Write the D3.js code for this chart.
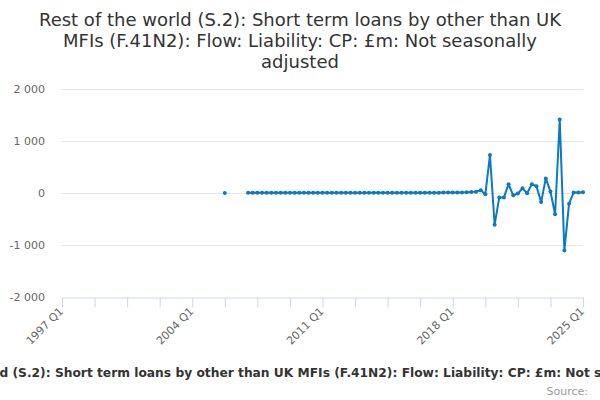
<!DOCTYPE html>
<html>
<head>
<meta charset="utf-8">
<script src="https://cdn.jsdelivr.net/npm/d3@7"></script>
<style>
  html, body { margin: 0; padding: 0; background: #fff; }
  svg { display: block; font-family: "DejaVu Sans", sans-serif; }
</style>
</head>
<body>
<svg id="chart" width="600" height="400"></svg>
<script>
// ---- data ----
const titleLines = [
  "Rest of the world (S.2): Short term loans by other than UK",
  "MFIs (F.41N2): Flow: Liability: CP: £m: Not seasonally",
  "adjusted"
];
const legendText = "Rest of the world (S.2): Short term loans by other than UK MFIs (F.41N2): Flow: Liability: CP: £m: Not seasonally adjusted";
const sourceText = "Source:";
const axisStart = "1997 Q1";
const axisEnd = "2025 Q1";
const xTickLabels = ["1997 Q1", "2004 Q1", "2011 Q1", "2018 Q1", "2025 Q1"];
const yTicks = [-2000, -1000, 0, 1000, 2000];
const yTickLabels = ["-2 000", "-1 000", "0", "1 000", "2 000"];
const seriesStart = "2005 Q4";
// quarterly values from 2005 Q4 to 2025 Q1 (null = no data)
const values = [
  0,                                  // 2005 Q4
  null, null, null, null,             // 2006
  5, 5, 5, 5,                         // 2007
  5, 5, 5, 5,                         // 2008
  5, 5, 5, 5,                         // 2009
  5, 5, 5, 5,                         // 2010
  5, 5, 5, 5,                         // 2011
  5, 5, 5, 5,                         // 2012
  5, 5, 5, 5,                         // 2013
  5, 5, 5, 5,                         // 2014
  5, 5, 5, 5,                         // 2015
  5, 5, 5, 5,                         // 2016
  5, 5, 10, 10,                       // 2017
  10, 10, 10, 15,                     // 2018
  20, 25, 55, -25,                    // 2019
  730, -610, -85, -85,                // 2020
  170, -45, -10, 90,                  // 2021
  -5, 170, 130, -175,                 // 2022
  280, 30, -410, 1415,                // 2023
  -1105, -205, 10, 10,                // 2024
  15                                  // 2025 Q1
];

// ---- helpers ----
function qIndex(label) {            // quarters since axisStart
  const [yr, q] = label.split(" Q").map(Number);
  const [y0, q0] = axisStart.split(" Q").map(Number);
  return (yr - y0) * 4 + (q - q0);
}

const startIdx = qIndex(seriesStart);
const points = values.map((v, i) => ({ i: startIdx + i, v }));

const svg = d3.select("#chart");
const W = 600;
const plotLeft = 62, plotRight = 583, plotTop = 89, plotBottom = 297;

const x = d3.scaleLinear().domain([0, qIndex(axisEnd)]).range([plotLeft, plotRight]);
const y = d3.scaleLinear().domain([-2000, 2000]).range([plotBottom, plotTop]);

// title
const title = svg.append("text")
  .attr("text-anchor", "middle")
  .attr("fill", "#333333")
  .style("font-size", "18px");
titleLines.forEach((t, k) => {
  title.append("tspan").attr("x", W / 2).attr("y", 26 + k * 21).text(t);
});

// gridlines
svg.append("g")
  .selectAll("line")
  .data(yTicks.filter(t => t !== -2000))
  .join("line")
  .attr("x1", plotLeft - 1).attr("x2", plotRight)
  .attr("y1", d => Math.round(y(d)) + 0.5).attr("y2", d => Math.round(y(d)) + 0.5)
  .attr("stroke", "#e6e6e6").attr("stroke-width", 1);

// y labels
svg.append("g")
  .selectAll("text")
  .data(yTicks)
  .join("text")
  .attr("x", 45)
  .attr("y", d => y(d) + 4)
  .attr("text-anchor", "end")
  .attr("fill", "#666666")
  .style("font-size", "11px")
  .text((d, k) => yTickLabels[k]);

// x axis
const xAxisG = svg.append("g").attr("transform", `translate(0,${plotBottom + 0.5})`);
const tickIdx = d3.range(0, qIndex(axisEnd) + 1, 7);
const xAxis = d3.axisBottom(x)
  .tickValues(tickIdx)
  .tickSize(10)
  .tickSizeOuter(0)
  .tickFormat("");
xAxisG.call(xAxis);
xAxisG.select(".domain").attr("stroke", "#ccd6eb");
xAxisG.selectAll(".tick line").attr("stroke", "#ccd6eb");

svg.append("g")
  .selectAll("text")
  .data(xTickLabels)
  .join("text")
  .attr("transform", d => `translate(${x(qIndex(d)) + 2},${plotBottom + 15}) rotate(-45)`)
  .attr("text-anchor", "end")
  .attr("fill", "#666666")
  .style("font-size", "11px")
  .text(d => d);

// line
const color = "#0b7ac0";
const line = d3.line()
  .defined(d => d.v !== null)
  .x(d => x(d.i))
  .y(d => y(d.v));

svg.append("path")
  .datum(points)
  .attr("d", line)
  .attr("fill", "none")
  .attr("stroke", color)
  .attr("stroke-width", 2)
  .attr("stroke-linejoin", "round");

svg.append("g")
  .selectAll("circle")
  .data(points.filter(d => d.v !== null))
  .join("circle")
  .attr("cx", d => x(d.i))
  .attr("cy", d => y(d.v))
  .attr("r", 2)
  .attr("fill", color);

// legend (overflowing, centred)
const legSize = "12.25px";
const leg = svg.append("text")
  .attr("y", 377)
  .attr("fill", "#333333")
  .style("font-size", legSize)
  .style("font-weight", "bold")
  .text(legendText);
const prefix = svg.append("text")
  .style("font-size", legSize)
  .style("font-weight", "bold")
  .text("Rest of the worl");
const pw = prefix.node().getComputedTextLength();
prefix.remove();
leg.attr("x", -pw - 0.5);

// source
svg.append("text")
  .attr("x", 588)
  .attr("y", 395)
  .attr("text-anchor", "end")
  .attr("fill", "#999999")
  .style("font-size", "11px")
  .text(sourceText);
</script>
</body>
</html>
